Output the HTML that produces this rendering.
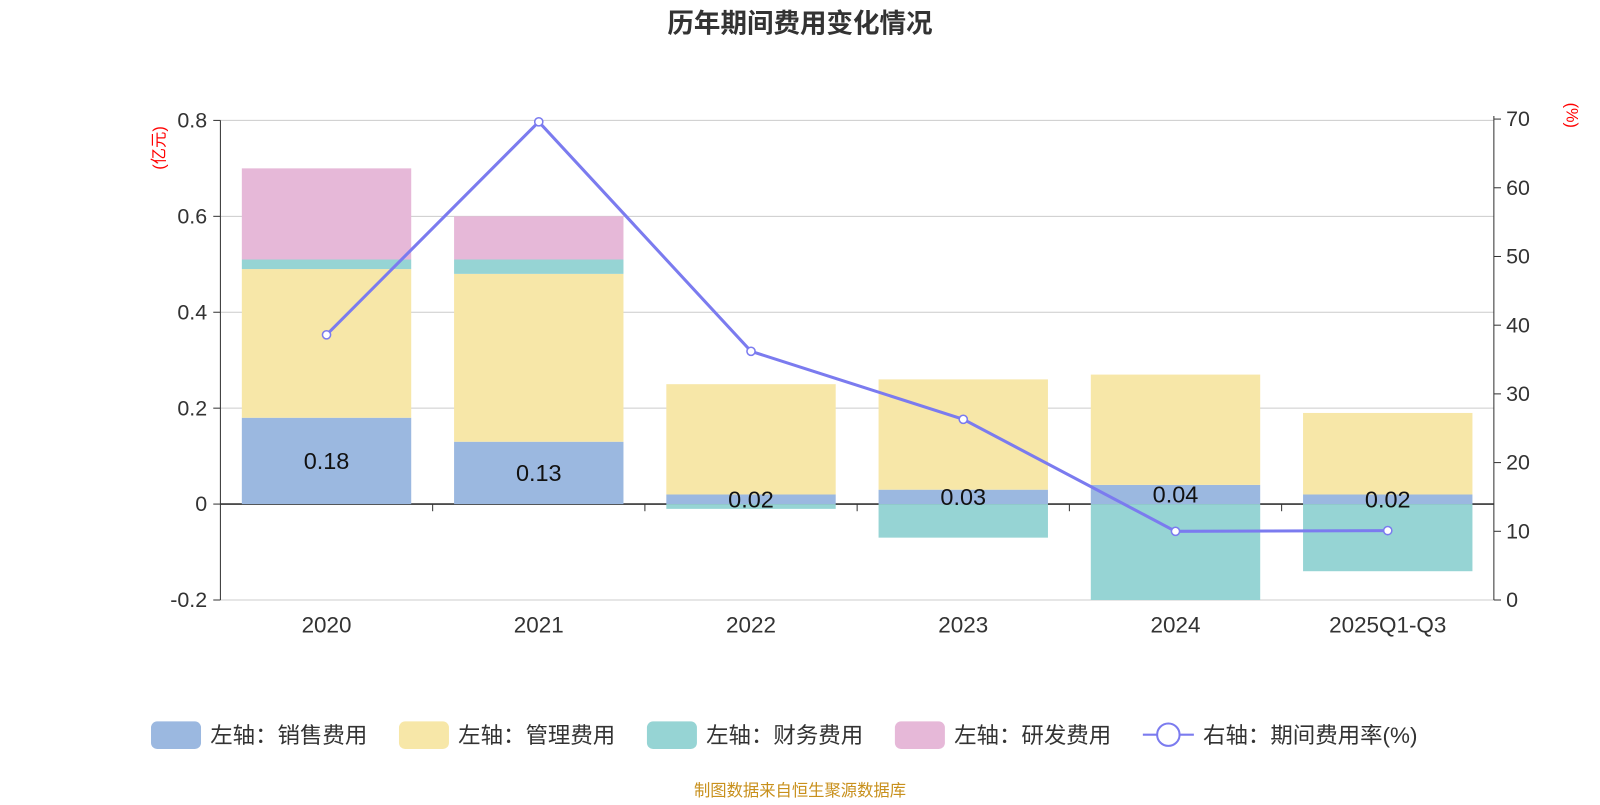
<!DOCTYPE html>
<html><head><meta charset="utf-8"><style>
body{margin:0;background:#fff;font-family:"Liberation Sans","Noto Sans CJK SC",sans-serif}
svg text{font-family:"Liberation Sans","Noto Sans CJK SC",sans-serif}
</style></head><body>
<svg id="c" width="1600" height="800" xmlns="http://www.w3.org/2000/svg"><g id="root" transform="scale(1.0204)"></g></svg>
<script>
const categories=["2020","2021","2022","2023","2024","2025Q1-Q3"];
const sales=[0.18,0.13,0.02,0.03,0.04,0.02];
const mgmt=[0.31,0.35,0.23,0.23,0.23,0.17];
const finance=[0.02,0.03,-0.01,-0.07,-0.2,-0.14];
const rnd=[0.19,0.09,0,0,0,0];
const rate=[38.6,69.6,36.2,26.3,10.0,10.1];
const leftTicks=[-0.2,0,0.2,0.4,0.6,0.8];
const rightTicks=[0,10,20,30,40,50,60,70];

const svg=document.getElementById('root');
const NS="http://www.w3.org/2000/svg";
function mk(t,a,p){const e=document.createElementNS(NS,t);for(const k in a)e.setAttribute(k,a[k]);(p||svg).appendChild(e);return e;}
const X0=216,X1=1464,band=(X1-X0)/categories.length;
const yL=v=>494-v*470;
const yR=v=>588-v*6.733;
const xc=i=>X0+band*(i+0.5);

let t=mk('text',{x:784,y:32,'text-anchor':'middle','font-size':26,'font-weight':'bold',fill:'#333'});t.textContent='历年期间费用变化情况';



leftTicks.forEach(v=>{
 const l=mk('line',{x1:X0,x2:X1,y1:yL(v),y2:yL(v),stroke:v===0?'#333':'#ccc','stroke-width':v===0?1.5:1});
 
 
 const tx=mk('text',{x:203,y:yL(v)+7,'text-anchor':'end','font-size':21,fill:'#333'});tx.textContent=v===0?'0':String(v);
 
 
 mk('line',{x1:209,x2:X0,y1:yL(v),y2:yL(v),stroke:'#333'});
});
mk('line',{x1:X0,x2:X0,y1:yL(0.8),y2:yL(-0.2),stroke:'#333'});
mk('line',{x1:X1,x2:X1,y1:yR(70)-3,y2:yR(0),stroke:'#333'});
rightTicks.forEach(v=>{
 mk('line',{x1:X1,x2:X1+7,y1:yR(v),y2:yR(v),stroke:'#333'});
 const tx=mk('text',{x:1476,y:yR(v)+7,'font-size':21,fill:'#333'});tx.textContent=v;
 
 
});
for(let i=1;i<categories.length;i++)mk('line',{x1:X0+band*i,x2:X0+band*i,y1:494,y2:501,stroke:'#333'});
let u=mk('text',{x:0,y:0,'font-size':16,fill:'red',transform:'translate(161,145) rotate(-90)','text-anchor':'middle'});u.textContent='(亿元)';


u=mk('text',{x:0,y:0,'font-size':16,fill:'red',transform:'translate(1535,113) rotate(90)','text-anchor':'middle'});u.textContent='(%)';



const colors={sales:'#9bb8e0',mgmt:'#f7e7a8',fin:'#96d4d4',rnd:'#e6b8d8'};
const bw=166;
categories.forEach((c,i)=>{
 const x=xc(i)-bw/2;
 let pos=0,neg=0;
 const seg=(v,col,name)=>{
  if(!v)return;
  let y1,y2;
  if(v>=0){y1=yL(pos+v);y2=yL(pos);pos+=v;}else{y1=yL(neg);y2=yL(neg+v);neg+=v;}
  const r=mk('rect',{x:x,y:y1,width:bw,height:y2-y1,fill:col});
  
  
 };
 seg(sales[i],colors.sales,'sales');seg(mgmt[i],colors.mgmt,'mgmt');seg(finance[i],colors.fin,'finance');seg(rnd[i],colors.rnd,'rnd');
 const lb=mk('text',{x:xc(i),y:yL(sales[i]/2)+8,'text-anchor':'middle','font-size':23,fill:'#111'});lb.textContent=sales[i];
 
 
 const xt=mk('text',{x:xc(i),y:620,'text-anchor':'middle','font-size':22,fill:'#333'});xt.textContent=c;
 
 
});
const pl=mk('polyline',{points:rate.map((v,i)=>xc(i)+','+yR(v)).join(' '),fill:'none',stroke:'#7b7bef','stroke-width':3});


rate.forEach((v,i)=>{const p=mk('circle',{cx:xc(i),cy:yR(v),r:4,fill:'#fff',stroke:'#7b7bef','stroke-width':1.5});
 
 });

const leg=[['左轴：销售费用',colors.sales,148],['左轴：管理费用',colors.mgmt,391],['左轴：财务费用',colors.fin,634],['左轴：研发费用',colors.rnd,877]];
leg.forEach(([n,col,x])=>{
 const g=mk('g',{});
 
 
 mk('rect',{x:x,y:707,width:49,height:27,rx:6,fill:col},g);
 const tt=mk('text',{x:x+58,y:728,'font-size':22,fill:'#333'},g);tt.textContent=n;
});
const g=mk('g',{});


mk('line',{x1:1120,x2:1170,y1:720,y2:720,stroke:'#7b7bef','stroke-width':2},g);
mk('circle',{cx:1145,cy:720,r:11,fill:'#fff',stroke:'#7b7bef','stroke-width':2},g);
const tt=mk('text',{x:1179,y:728,'font-size':22,fill:'#333'},g);tt.textContent='右轴：期间费用率(%)';
const f=mk('text',{x:784,y:780,'text-anchor':'middle','font-size':16,fill:'#c8901c'});f.textContent='制图数据来自恒生聚源数据库';


</script>
</body></html>
